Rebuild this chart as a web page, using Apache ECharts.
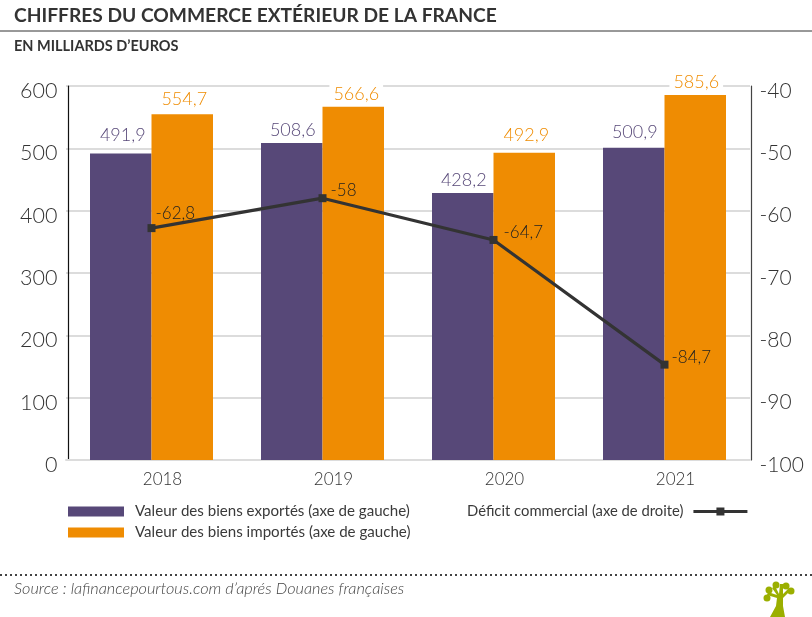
<!DOCTYPE html>
<html><head><meta charset="utf-8">
<style>html,body{margin:0;padding:0;background:#fff}#c{width:812px;height:617px}</style>
<script src="https://cdn.jsdelivr.net/npm/echarts@6/dist/echarts.min.js"></script></head>
<body><div id="c"></div>
<script>
const categories = ['2018','2019','2020','2021'];
const exportsValues = [491.9,508.6,428.2,500.9];
const importsValues = [554.7,566.6,492.9,585.6];
const deficitValues = [-62.8,-58,-64.7,-84.7];
const exportLabelOffsets = [[2,-5],[1,0],[1,0],[1,-3]];
const importLabelOffsets = [[2,-2],[3,0],[2,-5],[1,0]];
const deficitLabelOffsets = [[-5,-15],[-1,-8],[1,-7],[-2,-7]];
const exportName = 'Valeur des biens exportés (axe de gauche)';
const importName = 'Valeur des biens importés (axe de gauche)';
const deficitName = 'Déficit commercial (axe de droite)';
const FONT = 'Lato';
const fr = v => String(v).replace('.',',');
const chart = echarts.init(document.getElementById('c'),null,{renderer:'canvas'});
const legendText = {fontFamily:FONT,fontSize:15.1,color:'#3a3a3a',fontWeight:400};
const green = '#9BAF00';
const withOffsets = (vals,offs) => vals.map((v,i)=>({value:v,label:{offset:offs[i]}}));
chart.setOption({
  animation:false,
  backgroundColor:'#fff',
  textStyle:{fontFamily:FONT},
  title:[
    {text:'CHIFFRES DU COMMERCE EXTÉRIEUR DE LA FRANCE',left:14,top:6.5,padding:0,textStyle:{fontFamily:FONT,fontWeight:700,fontSize:19.2,color:'#333'}},
    {text:'EN MILLIARDS D’EUROS',left:14,top:39,padding:0,textStyle:{fontFamily:FONT,fontWeight:700,fontSize:14.5,color:'#333'}},
    {text:'Source : lafinancepourtous.com d’aprés Douanes françaises',left:14,top:581,padding:0,textStyle:{fontFamily:FONT,fontWeight:300,fontStyle:'italic',fontSize:16.3,color:'#444'}}
  ],
  legend:[
    {data:[exportName,importName],orient:'vertical',left:68,top:504,itemWidth:56,itemHeight:10,itemGap:6,textStyle:{...legendText,padding:[0,0,0,6]},padding:0,selectedMode:false,icon:'rect'},
    {data:[deficitName],left:467,top:504,align:'right',itemWidth:54,itemHeight:10,padding:0,textStyle:{...legendText,fontSize:14.8,padding:[0,5,0,0]},lineStyle:{width:3},selectedMode:false}
  ],
  grid:{left:66,top:86,width:684,height:374,containLabel:false},
  xAxis:{type:'category',data:categories,
    axisLine:{show:true,lineStyle:{color:'#dcdcdc',width:2}},axisTick:{show:false},
    axisLabel:{fontFamily:FONT,fontSize:17,fontWeight:300,color:'#333',margin:11,padding:[0,0,0,22]}},
  yAxis:[
    {type:'value',min:0,max:600,interval:100,offset:-2.5,
     axisLine:{show:true,lineStyle:{color:'#111',width:1.2}},axisTick:{show:false},
     splitLine:{show:true,lineStyle:{color:'#dcdcdc',width:2}},
     axisLabel:{fontFamily:FONT,fontSize:21.5,fontWeight:300,color:'#333',margin:11,verticalAlign:'top',lineHeight:10}},
    {type:'value',position:'right',min:-100,max:-40,interval:10,offset:1.5,
     axisLine:{show:true,lineStyle:{color:'#444',width:1.2}},axisTick:{show:false},
     splitLine:{show:false},
     axisLabel:{fontFamily:FONT,fontSize:21,fontWeight:300,color:'#333',margin:8,verticalAlign:'top',lineHeight:10}}
  ],
  series:[
    {name:exportName,type:'bar',data:withOffsets(exportsValues,exportLabelOffsets),barWidth:61.5,barGap:0,itemStyle:{color:'#574878'},
     label:{show:true,position:'top',distance:4,formatter:p=>fr(p.value),fontFamily:FONT,fontSize:18,fontWeight:300,color:'#574878',backgroundColor:'#fff',padding:[0,4]}},
    {name:importName,type:'bar',data:withOffsets(importsValues,importLabelOffsets),barWidth:61.5,barGap:0,itemStyle:{color:'#EF8C02'},
     label:{show:true,position:'top',distance:4,formatter:p=>fr(p.value),fontFamily:FONT,fontSize:18,fontWeight:300,color:'#EF8C02',backgroundColor:'#fff',padding:[0,4]}},
    {name:deficitName,type:'line',yAxisIndex:1,z:5,symbol:'rect',symbolSize:8,
     data:withOffsets(deficitValues,deficitLabelOffsets),
     lineStyle:{color:'#333',width:3.2},itemStyle:{color:'#333'},
     label:{show:true,position:'right',formatter:p=>fr(p.value),fontFamily:FONT,fontSize:17,fontWeight:300,color:'#222'}}
  ],
  graphic:[
    {type:'line',shape:{x1:0,y1:31,x2:812,y2:31},style:{stroke:'#333',lineWidth:1}},
    {type:'line',shape:{x1:0,y1:575,x2:812,y2:575},style:{stroke:'#444',lineWidth:2,lineDash:[2,3]}},
    {type:'polygon',shape:{points:[[770,617],[776,606],[777,598],[767,595],[768,592],[777,595],[772,588],[775,586],[779,594],[780,584],[783,584],[783,594],[789,588],[791,590],[783,598],[783,606],[785,617]]},style:{fill:green}},
    {type:'circle',shape:{cx:767,cy:598,r:3.5},style:{fill:green}},
    {type:'circle',shape:{cx:769,cy:590,r:3.5},style:{fill:green}},
    {type:'circle',shape:{cx:776,cy:585,r:3.5},style:{fill:green}},
    {type:'circle',shape:{cx:786,cy:586,r:3.5},style:{fill:green}},
    {type:'circle',shape:{cx:791,cy:591,r:3.5},style:{fill:green}}
  ]
});
</script></body></html>
